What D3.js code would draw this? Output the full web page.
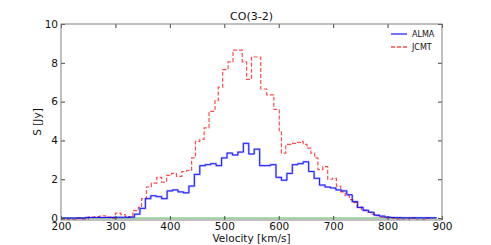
<!DOCTYPE html>
<html>
<head>
<meta charset="utf-8">
<script src="https://cdn.jsdelivr.net/npm/d3@7"></script>
<style>
    body { margin: 0; background: #fff; }
    text { font-family: "DejaVu Sans", sans-serif; }
</style>
</head>
<body>
<svg id="chart"></svg>
<script>
// ALMA spectrum, channel centres (km/s) and flux (Jy)
const almaVel = [200, 210, 220, 230, 240, 250, 260, 270, 280, 290,
    300, 310, 320, 330, 340, 350, 360, 370, 380, 390,
    400, 410, 420, 430, 440, 450, 460, 470, 480, 490,
    500, 510, 520, 530, 540, 550, 560, 570, 580, 590,
    600, 610, 620, 630, 640, 650, 660, 670, 680, 690,
    700, 710, 720, 730, 740, 750, 760, 770, 780, 790,
    800, 810, 820, 830, 840, 850, 860, 870, 880, 890];
const almaFlux = [0.0, 0.0, 0.0, 0.0, 0.0, 0.03, 0.03, 0.03, 0.03, 0.03,
    0.04, 0.04, 0.04, 0.05, 0.2, 0.5, 1.0, 1.15, 1.1, 1.0,
    1.4, 1.45, 1.35, 1.3, 1.65, 2.25, 2.7, 2.75, 2.8, 2.7,
    3.1, 3.35, 3.25, 3.4, 3.85, 3.3, 3.55, 2.7, 2.7, 2.75,
    2.1, 1.95, 2.3, 2.75, 2.8, 2.9, 2.4, 2.05, 1.7, 1.6,
    1.55, 1.45, 1.4, 1.2, 0.85, 0.55, 0.4, 0.3, 0.15, 0.1,
    0.05, 0.03, 0.02, 0.01, 0.01, 0.01, 0.01, 0.01, 0.01, 0.01];

// JCMT spectrum, left bin edges (km/s) and flux (Jy)
const jcmtVel = [200, 215, 228, 240, 250, 262, 272, 282, 292, 300,
    310, 318, 325, 332, 342, 348, 357, 366, 376, 385,
    394, 403, 412, 422, 431, 440, 447, 455, 463, 472,
    483, 489, 497, 507, 516, 533, 541, 550, 567, 578,
    591, 601, 605, 613, 622, 631, 640, 645, 652, 659,
    666, 672, 681, 690, 699, 706, 714, 722, 730, 736,
    744, 752, 761, 770, 779, 786, 795, 805, 818, 828,
    840, 852, 865, 872, 880];
const jcmtFlux = [-0.05, -0.08, 0.0, -0.05, 0.05, 0.08, 0.12, 0.05, 0.0, 0.25,
    0.18, 0.08, 0.05, 0.38, 0.55, 1.0, 1.6, 1.8, 2.1, 1.85,
    2.2, 2.3, 2.15, 2.4, 2.45, 3.1, 3.95, 4.05, 4.65, 5.5,
    6.05, 6.75, 7.65, 8.05, 8.65, 8.05, 7.15, 8.3, 6.65, 6.35,
    5.6, 4.5, 3.35, 3.8, 3.85, 3.9, 3.95, 3.8, 3.6, 3.35,
    3.1, 2.5, 2.65, 2.0, 2.05, 1.65, 1.35, 1.15, 0.95, 0.8,
    0.55, 0.4, 0.3, 0.2, 0.12, 0.05, 0.02, 0.0, -0.05, -0.1,
    0.0, -0.1, -0.08, 0.0, 0.0];

// zero baseline
const baseVel = [200, 890];
const baseFlux = [0, 0];

const xTicks = [200, 300, 400, 500, 600, 700, 800, 900];
const yTicks = [0, 2, 4, 6, 8, 10];

const width = 491;
const height = 245;
const margin = {top: 24, right: 49, bottom: 25, left: 61};

const svg = d3.select("#chart")
    .attr("width", width)
    .attr("height", height);

const x = d3.scaleLinear()
    .domain([200, 900])
    .range([margin.left, width - margin.right]);

const y = d3.scaleLinear()
    .domain([-0.1, 10])
    .range([height - margin.bottom, margin.top]);

svg.append("clipPath")
    .attr("id", "plot-clip")
    .append("rect")
    .attr("x", margin.left)
    .attr("y", margin.top)
    .attr("width", width - margin.left - margin.right)
    .attr("height", height - margin.top - margin.bottom);

const plot = svg.append("g").attr("clip-path", "url(#plot-clip)");

const toPoints = (xs, ys) => xs.map((v, i) => [v, ys[i]]);

const stepMid = d3.line()
    .x(d => x(d[0]))
    .y(d => y(d[1]))
    .curve(d3.curveStep);

const stepAfter = d3.line()
    .x(d => x(d[0]))
    .y(d => y(d[1]))
    .curve(d3.curveStepAfter);

// baseline
plot.append("path")
    .attr("d", stepMid(toPoints(baseVel, baseFlux)))
    .attr("fill", "none")
    .attr("stroke", "#4caf50")
    .attr("stroke-width", 1);

// JCMT
plot.append("path")
    .attr("d", stepAfter(toPoints(jcmtVel, jcmtFlux)))
    .attr("fill", "none")
    .attr("stroke", "#ff0000")
    .attr("stroke-opacity", 0.7)
    .attr("stroke-width", 1.2)
    .attr("stroke-dasharray", "4,2");

// ALMA (soft halo + core)
plot.append("path")
    .attr("d", stepMid(toPoints(almaVel, almaFlux)))
    .attr("fill", "none")
    .attr("stroke", "#0000ff")
    .attr("stroke-opacity", 0.28)
    .attr("stroke-width", 2.2);

plot.append("path")
    .attr("d", stepMid(toPoints(almaVel, almaFlux)))
    .attr("fill", "none")
    .attr("stroke", "#0000ff")
    .attr("stroke-opacity", 0.85)
    .attr("stroke-width", 1);

// axes, ticks pointing inward on all sides
const tickColor = "#444";
const styleAxis = g => {
    g.select(".domain").remove();
    g.selectAll(".tick line").attr("stroke", tickColor);
    g.selectAll(".tick text")
        .attr("fill", "#111")
        .style("font-size", "10.5px");
};

svg.append("g")
    .attr("transform", `translate(0,${height - margin.bottom})`)
    .call(d3.axisBottom(x).tickValues(xTicks).tickFormat(d3.format("d"))
        .tickSizeInner(-4).tickSizeOuter(0).tickPadding(3))
    .call(styleAxis);

svg.append("g")
    .attr("transform", `translate(0,${margin.top})`)
    .call(d3.axisTop(x).tickValues(xTicks).tickFormat("")
        .tickSizeInner(-4).tickSizeOuter(0))
    .call(styleAxis);

svg.append("g")
    .attr("transform", `translate(${margin.left},0)`)
    .call(d3.axisLeft(y).tickValues(yTicks).tickFormat(d3.format("d"))
        .tickSizeInner(-4).tickSizeOuter(0).tickPadding(3))
    .call(styleAxis);

svg.append("g")
    .attr("transform", `translate(${width - margin.right},0)`)
    .call(d3.axisRight(y).tickValues(yTicks).tickFormat("")
        .tickSizeInner(-4).tickSizeOuter(0))
    .call(styleAxis);

// frame
svg.append("rect")
    .attr("x", margin.left)
    .attr("y", margin.top)
    .attr("width", width - margin.left - margin.right)
    .attr("height", height - margin.top - margin.bottom)
    .attr("fill", "none")
    .attr("stroke", "#808080")
    .attr("stroke-width", 1);

// title and labels
svg.append("text")
    .attr("x", (margin.left + width - margin.right) / 2)
    .attr("y", 20)
    .attr("text-anchor", "middle")
    .style("font-size", "11px")
    .attr("fill", "#111")
    .text("CO(3-2)");

svg.append("text")
    .attr("x", (margin.left + width - margin.right) / 2)
    .attr("y", 242)
    .attr("text-anchor", "middle")
    .style("font-size", "10.5px")
    .attr("fill", "#111")
    .text("Velocity [km/s]");

svg.append("text")
    .attr("transform", `translate(41,${(margin.top + height - margin.bottom) / 2}) rotate(-90)`)
    .attr("text-anchor", "middle")
    .style("font-size", "10.5px")
    .attr("fill", "#111")
    .text("S [Jy]");

// legend
const legendData = [
    {term: "ALMA", color: "#0000ff", dash: null, opacity: 0.85},
    {term: "JCMT", color: "#ff0000", dash: "4,2", opacity: 0.7}
];

const legend = svg.append("g").attr("class", "legend");

legend.selectAll("g")
    .data(legendData)
    .join("g")
    .each(function (d, i) {
        const g = d3.select(this);
        const ly = 34 + i * 13;
        g.append("line")
            .attr("x1", 391)
            .attr("x2", 407)
            .attr("y1", ly)
            .attr("y2", ly)
            .attr("stroke", d.color)
            .attr("stroke-opacity", d.opacity)
            .attr("stroke-width", 1.3)
            .attr("stroke-dasharray", d.dash);
        g.append("text")
            .attr("x", 412)
            .attr("y", ly + 3)
            .style("font-size", "8px")
            .attr("fill", "#111")
            .text(d.term);
    });
</script>
</body>
</html>
